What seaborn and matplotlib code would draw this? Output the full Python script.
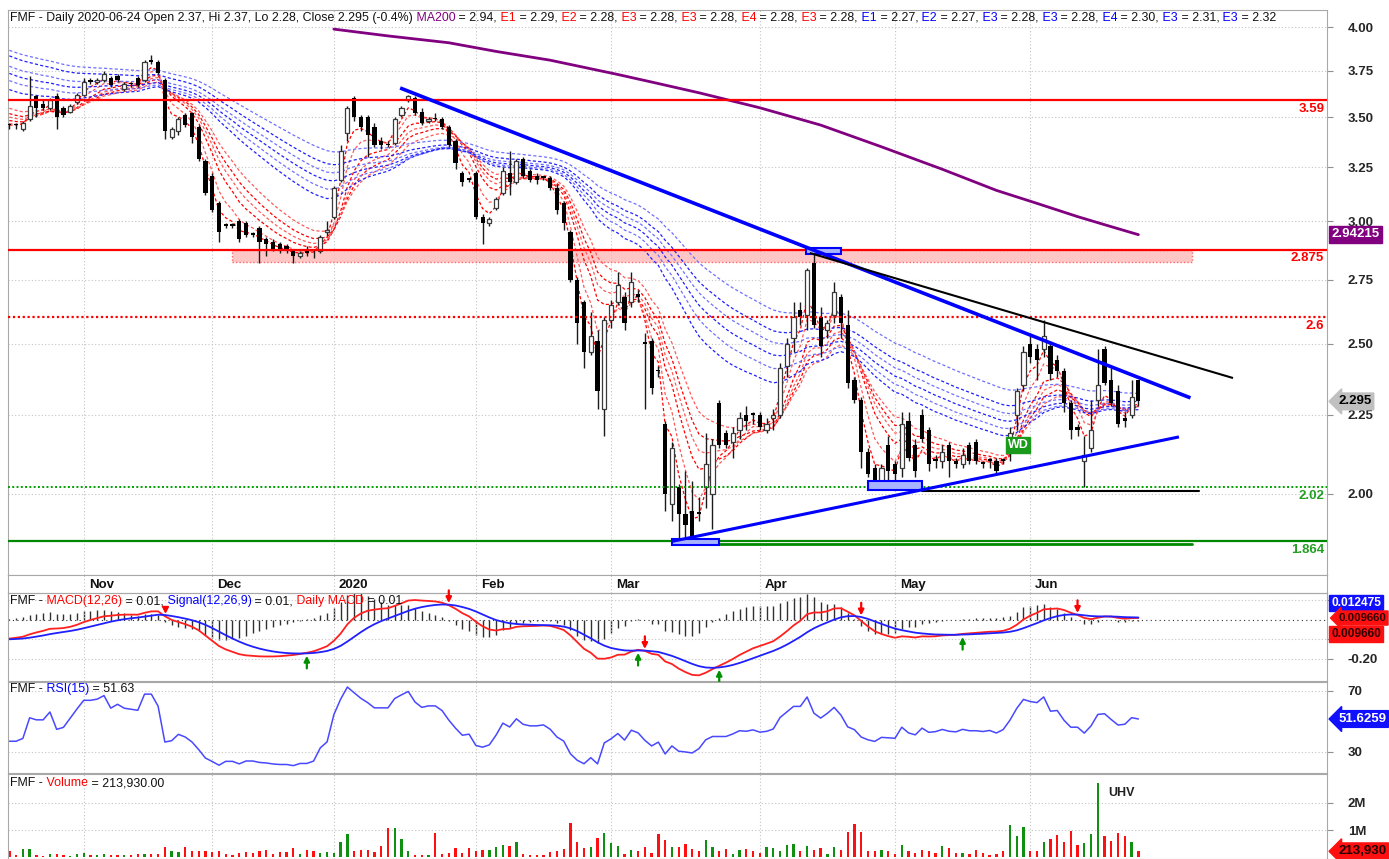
import numpy as np
import pandas as pd
import seaborn as sns
import matplotlib
matplotlib.use('Agg')
from matplotlib import pyplot as plt
from matplotlib.patches import Rectangle
from matplotlib.ticker import NullLocator, NullFormatter

# daily candles FMF, 2019-10-17 .. 2020-06-24 (one entry per traded day)
opens = [3.46, 3.46, 3.44, 3.49, 3.61, 3.57, 3.55, 3.61, 3.55, 3.53, 3.58, 3.62, 3.70, 3.69, 3.70, 3.71, 3.72, 3.65, 3.685, 3.71,
         3.70, 3.81, 3.80, 3.70, 3.40, 3.43, 3.51, 3.52, 3.45, 3.28, 3.21, 3.08, 2.98, 2.98, 3.00, 2.99, 2.94, 2.97, 2.92, 2.91,
         2.90, 2.89, 2.87, 2.85, 2.88, 2.87, 2.87, 2.95, 3.02, 3.19, 3.42, 3.60, 3.50, 3.50, 3.45, 3.38, 3.36, 3.37, 3.51, 3.59,
         3.60, 3.53, 3.48, 3.49, 3.49, 3.45, 3.38, 3.22, 3.19, 3.22, 3.02, 2.99, 3.06, 3.13, 3.22, 3.18, 3.29, 3.23, 3.21, 3.20,
         3.20, 3.15, 3.08, 2.95, 2.75, 2.66, 2.47, 2.51, 2.27, 2.59, 2.66, 2.68, 2.66, 2.69, 2.50, 2.51, 2.40, 2.22, 1.97, 2.02,
         1.94, 1.95, 1.94, 2.02, 2.00, 2.29, 2.19, 2.16, 2.20, 2.25, 2.25, 2.25, 2.20, 2.24, 2.25, 2.42, 2.52, 2.63, 2.61, 2.82,
         2.60, 2.55, 2.61, 2.68, 2.57, 2.37, 2.30, 2.13, 2.08, 2.04, 2.15, 2.09, 2.08, 2.23, 2.15, 2.25, 2.20, 2.10, 2.10, 2.15,
         2.10, 2.09, 2.15, 2.16, 2.09, 2.10, 2.10, 2.10, 2.17, 2.25, 2.35, 2.50, 2.48, 2.48, 2.49, 2.44, 2.40, 2.29, 2.21, 2.10,
         2.14, 2.30, 2.48, 2.37, 2.33, 2.24, 2.25, 2.37]
highs = [3.47, 3.47, 3.48, 3.72, 3.62, 3.59, 3.60, 3.63, 3.56, 3.57, 3.63, 3.71, 3.71, 3.71, 3.75, 3.72, 3.73, 3.69, 3.69, 3.72,
         3.81, 3.84, 3.81, 3.71, 3.45, 3.50, 3.52, 3.53, 3.46, 3.29, 3.22, 3.09, 2.99, 2.99, 3.01, 3.00, 2.95, 2.98, 2.93, 2.92,
         2.91, 2.90, 2.88, 2.87, 2.89, 2.88, 2.94, 3.00, 3.16, 3.36, 3.56, 3.61, 3.51, 3.51, 3.47, 3.40, 3.38, 3.50, 3.56, 3.62,
         3.61, 3.55, 3.50, 3.52, 3.50, 3.46, 3.39, 3.23, 3.20, 3.23, 3.03, 3.02, 3.11, 3.25, 3.33, 3.29, 3.30, 3.24, 3.22, 3.21,
         3.21, 3.17, 3.09, 2.96, 2.76, 2.67, 2.62, 2.55, 2.60, 2.67, 2.78, 2.70, 2.78, 2.71, 2.54, 2.52, 2.42, 2.23, 2.16, 2.03,
         2.07, 2.04, 1.99, 2.19, 2.17, 2.30, 2.20, 2.21, 2.26, 2.28, 2.26, 2.26, 2.24, 2.27, 2.43, 2.52, 2.66, 2.66, 2.80, 2.88,
         2.64, 2.59, 2.74, 2.69, 2.63, 2.38, 2.31, 2.14, 2.09, 2.09, 2.18, 2.10, 2.26, 2.26, 2.17, 2.27, 2.21, 2.12, 2.15, 2.16,
         2.11, 2.14, 2.16, 2.17, 2.10, 2.11, 2.11, 2.11, 2.21, 2.34, 2.49, 2.54, 2.50, 2.59, 2.51, 2.46, 2.41, 2.30, 2.22, 2.18,
         2.30, 2.48, 2.49, 2.41, 2.35, 2.26, 2.37, 2.37]
lows = [3.44, 3.44, 3.43, 3.48, 3.50, 3.54, 3.54, 3.44, 3.50, 3.52, 3.57, 3.61, 3.68, 3.68, 3.69, 3.66, 3.69, 3.64, 3.66, 3.66,
        3.69, 3.79, 3.73, 3.39, 3.39, 3.41, 3.45, 3.37, 3.28, 3.12, 3.04, 2.91, 2.97, 2.97, 2.91, 2.93, 2.93, 2.82, 2.85, 2.87,
        2.86, 2.86, 2.82, 2.84, 2.85, 2.84, 2.86, 2.94, 3.01, 3.18, 3.38, 3.48, 3.43, 3.30, 3.35, 3.34, 3.35, 3.36, 3.50, 3.58,
        3.51, 3.46, 3.47, 3.48, 3.44, 3.35, 3.24, 3.16, 3.18, 3.01, 2.90, 2.98, 3.05, 3.12, 3.12, 3.17, 3.20, 3.18, 3.17, 3.19,
        3.14, 3.03, 2.96, 2.74, 2.50, 2.41, 2.46, 2.27, 2.18, 2.56, 2.65, 2.55, 2.64, 2.66, 2.27, 2.32, 2.38, 1.95, 1.92, 1.87,
        1.87, 1.86, 1.92, 1.96, 1.90, 2.14, 2.14, 2.11, 2.17, 2.20, 2.22, 2.20, 2.19, 2.20, 2.24, 2.38, 2.47, 2.57, 2.55, 2.56,
        2.45, 2.52, 2.58, 2.52, 2.34, 2.29, 2.08, 2.05, 2.02, 2.02, 2.04, 2.04, 2.05, 2.10, 2.05, 2.16, 2.07, 2.08, 2.08, 2.05,
        2.08, 2.08, 2.09, 2.09, 2.08, 2.08, 2.06, 2.09, 2.10, 2.20, 2.33, 2.43, 2.37, 2.45, 2.37, 2.38, 2.26, 2.17, 2.18, 2.02,
        2.13, 2.28, 2.35, 2.28, 2.21, 2.21, 2.24, 2.28]
closes = [3.46, 3.46, 3.47, 3.56, 3.55, 3.55, 3.59, 3.50, 3.51, 3.56, 3.62, 3.69, 3.69, 3.70, 3.73, 3.67, 3.70, 3.68, 3.675, 3.67,
          3.80, 3.80, 3.74, 3.43, 3.44, 3.49, 3.46, 3.40, 3.29, 3.13, 3.05, 2.95, 2.98, 2.98, 2.92, 2.94, 2.94, 2.91, 2.90, 2.88,
          2.87, 2.87, 2.85, 2.86, 2.86, 2.87, 2.93, 2.96, 3.15, 3.33, 3.55, 3.50, 3.45, 3.41, 3.36, 3.36, 3.36, 3.49, 3.55, 3.61,
          3.52, 3.47, 3.49, 3.49, 3.45, 3.36, 3.27, 3.18, 3.19, 3.02, 2.99, 3.01, 3.10, 3.23, 3.18, 3.28, 3.21, 3.19, 3.19, 3.20,
          3.15, 3.05, 2.99, 2.75, 2.58, 2.47, 2.53, 2.33, 2.59, 2.65, 2.73, 2.58, 2.74, 2.68, 2.50, 2.34, 2.40, 2.00, 2.14, 1.94,
          1.91, 1.87, 1.94, 2.09, 2.15, 2.15, 2.15, 2.19, 2.24, 2.23, 2.25, 2.21, 2.22, 2.25, 2.41, 2.50, 2.60, 2.60, 2.79, 2.57,
          2.49, 2.58, 2.70, 2.58, 2.36, 2.30, 2.13, 2.06, 2.02, 2.08, 2.07, 2.06, 2.22, 2.11, 2.07, 2.17, 2.09, 2.10, 2.13, 2.10,
          2.09, 2.12, 2.10, 2.10, 2.09, 2.10, 2.07, 2.10, 2.19, 2.33, 2.47, 2.45, 2.44, 2.53, 2.39, 2.40, 2.29, 2.20, 2.20, 2.12,
          2.20, 2.35, 2.36, 2.29, 2.22, 2.23, 2.31, 2.295]
volume_m = [0.23, 0.06, 0.30, 0.30, 0.06, 0.04, 0.12, 0.10, 0.06, 0.04, 0.12, 0.16, 0.08, 0.06, 0.12, 0.08, 0.08, 0.08, 0.08, 0.12,
            0.10, 0.12, 0.12, 0.36, 0.24, 0.18, 0.36, 0.21, 0.21, 0.24, 0.18, 0.23, 0.12, 0.08, 0.16, 0.18, 0.16, 0.24, 0.25, 0.12,
            0.18, 0.18, 0.33, 0.12, 0.28, 0.24, 0.16, 0.18, 0.16, 0.57, 0.85, 0.24, 0.27, 0.27, 0.18, 0.42, 1.09, 1.09, 0.67, 0.21,
            0.08, 0.08, 0.08, 0.88, 0.11, 0.16, 0.33, 0.16, 0.33, 0.24, 0.28, 0.28, 0.36, 0.46, 0.42, 0.57, 0.12, 0.08, 0.06, 0.08,
            0.18, 0.21, 0.30, 1.27, 0.57, 0.33, 0.36, 0.70, 0.88, 0.51, 0.42, 0.12, 0.27, 0.24, 0.36, 0.16, 0.85, 0.63, 0.36, 0.36,
            0.48, 0.30, 0.24, 0.63, 0.36, 0.21, 0.30, 0.12, 0.28, 0.30, 0.21, 0.16, 0.36, 0.33, 0.24, 0.45, 0.47, 0.21, 0.40, 0.27,
            0.33, 0.12, 0.36, 0.28, 0.91, 1.24, 0.91, 0.23, 0.23, 0.27, 0.23, 0.12, 0.46, 0.23, 0.16, 0.27, 0.21, 0.16, 0.40, 0.33,
            0.16, 0.16, 0.12, 0.27, 0.16, 0.08, 0.12, 0.22, 1.19, 0.79, 1.12, 0.21, 0.24, 0.57, 0.67, 0.82, 0.57, 0.95, 0.46, 0.51,
            0.87, 2.73, 0.79, 0.61, 0.88, 0.79, 0.57, 0.214]

month_labels = ['Nov', 'Dec', '2020', 'Feb', 'Mar', 'Apr', 'May', 'Jun']
month_first_bar = [11, 30, 48, 69, 89, 111, 131, 151]

# 200 day average (bar, value)
ma200_bar = [48, 56, 65, 72, 80, 90, 96, 102, 111, 120, 129, 138, 146, 152, 158, 163, 167]
ma200_val = [3.99, 3.95, 3.91, 3.86, 3.81, 3.73, 3.68, 3.63, 3.55, 3.46, 3.35, 3.24, 3.14, 3.08, 3.02, 2.975, 2.94]

# guppy averages, starting values at the left edge
short_spans = [3, 5, 8, 10, 12, 15]
short_seeds = [3.46, 3.47, 3.49, 3.51, 3.53, 3.56]
long_spans = [30, 35, 40, 45, 50, 60]
long_seeds = [3.66, 3.71, 3.75, 3.79, 3.85, 3.88]
macd_seeds = {'fast': 3.50, 'slow': 3.60, 'signal': -0.10}
rsi_seeds = {'gain': 0.010, 'loss': 0.017}

levels_red = [3.59, 2.875]
level_dotted_red = 2.6
level_dotted_green = 2.02
level_green = 1.864
zone_pink = (33, 175, 2.823, 2.875)
boxes_blue = [(98, 105, 1.855, 1.872), (117.8, 123, 2.858, 2.882), (127, 135, 2.012, 2.038)]
trend_blue_down = ((57.8, 3.656), (174.7, 2.307))
trend_black = ((118.4, 2.861), (181, 2.376))
trend_blue_up = ((98, 1.864), (173, 2.177))
black_floor = ((135, 176), 2.01)
green_floor = ((103, 175), 1.857)

sell_bars = [65, 94, 126, 158]
sell_small_bars = [23]
buy_bars = [44, 93, 105, 141]


def ema(values, span, seed):
    a = 2.0 / (span + 1)
    out, prev = [], seed
    for v in values:
        prev = a * v + (1 - a) * prev
        out.append(prev)
    return np.array(out)


def wilder_rsi(values, n, g0, l0):
    ag, al, prev = g0, l0, values[0]
    out = []
    for v in values:
        ch = v - prev
        prev = v
        ag = (ag * (n - 1) + max(ch, 0)) / n
        al = (al * (n - 1) + max(-ch, 0)) / n
        out.append(100 - 100 / (1 + ag / al))
    return np.array(out)


df = pd.DataFrame({'open': opens, 'high': highs, 'low': lows, 'close': closes, 'vol': volume_m})
df['bar'] = np.arange(len(df))
macd = ema(closes, 12, macd_seeds['fast']) - ema(closes, 26, macd_seeds['slow'])
signal = ema(macd, 9, macd_seeds['signal'])
hist = macd - signal
rsi = wilder_rsi(closes, 15, rsi_seeds['gain'], rsi_seeds['loss'])

sns.set_style('white')
plt.rcParams['font.family'] = ['Liberation Sans', 'DejaVu Sans']

W, H = 1389, 859
fig = plt.figure(figsize=(W / 100, H / 100), dpi=100)
L, AW = 8 / W, 1319 / W
XLIM = (-0.2, 194.9)
GRID = dict(color='#c4c4c4', linestyle=(0, (1, 2)), linewidth=0.8)
SPINE = '#a8a8a8'
FS = 8.9


def right_ticks(a):
    a.yaxis.tick_right()
    a.tick_params(axis='y', left=False, right=True, labelleft=False, labelright=True,
                  length=4, color='#909090', pad=11, labelsize=9.5)


def panel(top, bottom):
    a = fig.add_axes([L, 1 - bottom / H, AW, (bottom - top) / H])
    a.set_xlim(*XLIM)
    a.set_xticks(month_first_bar)
    a.tick_params(axis='x', length=0, labelbottom=False)
    a.grid(axis='x', **GRID)
    right_ticks(a)
    for s in a.spines.values():
        s.set_color(SPINE)
    return a


def rainbow(a, x, y, parts, **kw):
    t = a.text(x, y, parts[0][0], color=parts[0][1], transform=fig.transFigure, va='bottom', **kw)
    for s, c in parts[1:]:
        t = a.annotate(s, xy=(1, 0), xycoords=t, va='bottom', color=c, annotation_clip=False, **kw)
    return t


def value_box(a, y, txt, fc, tc, arrow=False, dy=0, fs=9.5):
    style = 'larrow,pad=0.18' if arrow else 'square,pad=0.18'
    a.annotate(txt, xy=(1, y), xycoords=('axes fraction', 'data'), xytext=(3 if not arrow else 8, dy),
               textcoords='offset points', ha='left', va='center', color=tc, fontsize=fs,
               fontweight='bold', bbox=dict(boxstyle=style, fc=fc, ec=fc), annotation_clip=False, zorder=10)


# ---------------- price panel
ax = panel(10, 575)
ax.set_yscale('log')
ax.set_ylim(1.7732, 4.105)
ax.yaxis.set_minor_locator(NullLocator())
ax.yaxis.set_minor_formatter(NullFormatter())
price_ticks = [2.0, 2.25, 2.5, 2.75, 3.0, 3.25, 3.5, 3.75, 4.0]
ax.set_yticks(price_ticks)
ax.set_yticklabels([f'{v:.2f}' for v in price_ticks], fontweight='bold')
ax.grid(axis='y', **GRID)

x = df['bar'].to_numpy()
o, c = df['open'].to_numpy(), df['close'].to_numpy()
up = c > o
body_lo = np.minimum(o, c)
body_h = np.maximum(np.abs(c - o), 0.006)
ax.vlines(x, df['low'], df['high'], color='#1a1a1a', lw=1, zorder=4)
ax.bar(x[up], body_h[up], bottom=body_lo[up], width=0.62, facecolor='white', edgecolor='#3a3a3a', lw=0.9, zorder=5)
ax.bar(x[~up], body_h[~up], bottom=body_lo[~up], width=0.62, color='black', lw=0, zorder=5)

for i, (sp, sd) in enumerate(zip(short_spans, short_seeds)):
    ax.plot(x, ema(closes, sp, sd), color=['#ff0000', '#ff5a5a'][i % 2], lw=0.9, ls=(0, (2.5, 1.8)), zorder=3)
for i, (sp, sd) in enumerate(zip(long_spans, long_seeds)):
    ax.plot(x, ema(closes, sp, sd), color=['#2020ff', '#7070ff'][i % 2], lw=0.9, ls=(0, (2.5, 1.8)), zorder=3)

sns.lineplot(x=ma200_bar, y=ma200_val, ax=ax, color='#800080', lw=2, zorder=6)
ax.set_xlabel('')
ax.set_ylabel('')

for lv in levels_red:
    ax.axhline(lv, color='#ff0000', lw=1.6, zorder=6)
ax.axhline(level_dotted_red, color='#ff0000', lw=1.6, ls=(0, (1, 1.2)), zorder=6)
ax.axhline(level_dotted_green, color='#00a000', lw=1.4, ls=(0, (1, 1.2)), zorder=6)
ax.axhline(level_green, color='#008800', lw=1.6, zorder=6)
ax.plot(green_floor[0], [green_floor[1]] * 2, color='#008800', lw=2, zorder=6)
ax.plot(black_floor[0], [black_floor[1]] * 2, color='black', lw=1.5, zorder=6)

z0, z1, zl, zh = zone_pink
ax.add_patch(Rectangle((z0, zl), z1 - z0, zh - zl, facecolor='#ffb4b4', alpha=0.75, edgecolor='#ff4040',
                       lw=1, ls=(0, (1, 1.5)), zorder=2))
for b0, b1, bl, bh in boxes_blue:
    ax.add_patch(Rectangle((b0, bl), b1 - b0, bh - bl, facecolor='#a8b4ff', edgecolor='#0000ff', lw=1.5, zorder=7))

for (x0, y0), (x1, y1), col, lw in [(*trend_blue_down, '#0000ff', 2.6), (*trend_black, 'black', 1.5),
                                     (*trend_blue_up, '#0000ff', 2.2)]:
    ax.plot([x0, x1], [y0, y1], color=col, lw=lw, zorder=8, solid_capstyle='butt')

for lv, txt, col in [(3.59, '3.59', '#ff0000'), (2.875, '2.875', '#ff0000'), (2.6, '2.6', '#ff0000'),
                     (2.02, '2.02', '#22a022'), (1.864, '1.864', '#22a022')]:
    ax.annotate(txt, xy=(1, lv), xytext=(-2, -6), xycoords=('axes fraction', 'data'), textcoords='offset points',
                ha='right', va='center', fontsize=9.5, fontweight='bold', color=col)

ax.text(149.2, 2.15, 'WD', color='white', fontsize=9, fontweight='bold', ha='center', va='center', zorder=9,
        bbox=dict(boxstyle='square,pad=0.15', fc='#1a9a1a', ec='#1a9a1a'))

value_box(ax, 2.94215, '2.94215', '#800080', 'white')
value_box(ax, 2.295, '2.295', '#c0c0c0', 'black', arrow=True)

e_parts = [('E1', 'red', '2.29'), ('E2', 'red', '2.28'), ('E3', 'red', '2.28'), ('E3', 'red', '2.28'),
           ('E4', 'red', '2.28'), ('E3', 'red', '2.28'), ('E1', 'blue', '2.27'), ('E2', 'blue', '2.27'),
           ('E3', 'blue', '2.28'), ('E3', 'blue', '2.28'), ('E4', 'blue', '2.30'), ('E3', 'blue', '2.31'),
           ('E3', 'blue', '2.32')]
parts = [('FMF - Daily 2020-06-24 Open 2.37, Hi 2.37, Lo 2.28, Close 2.295 (-0.4%)', '#111111'),
         (' MA200', '#800080'), (' = 2.94,', '#111111')]
for k, (nm, col, v) in enumerate(e_parts):
    parts.append((' ' + nm, '#ff0000' if col == 'red' else '#0000ff'))
    parts.append((f' = {v}' + (',' if k < len(e_parts) - 1 else ''), '#111111'))
rainbow(ax, 10 / W, 1 - 24 / H, parts, fontsize=FS)

# ---------------- date strip
axd = fig.add_axes([L, 1 - 593 / H, AW, 18 / H])
axd.set_xlim(*XLIM)
axd.set_ylim(0, 1)
axd.set_xticks([])
axd.set_yticks([])
for s in axd.spines.values():
    s.set_color(SPINE)
for pos, lab in zip(month_first_bar, month_labels):
    axd.axvline(pos, **GRID)
    axd.text(pos + 0.75, 0.45, lab, fontsize=9.5, fontweight='bold', va='center', ha='left', color='#111111')

# ---------------- MACD
axm = panel(593, 681)
axh = axm.twinx()
right_ticks(axm)
axm.set_ylim(-0.313, 0.138)
axm.set_yticks([0.1, -0.1, -0.2])
# the 0.10 / -0.10 labels sit under the value boxes, only -0.20 shows
axm.set_yticklabels(['', '', '-0.20'], fontweight='bold')
axm.grid(axis='y', **GRID)
axh.set_ylim(-0.313 * 0.7, 0.138 * 0.7)
axh.set_yticks([])
for s in axh.spines.values():
    s.set_visible(False)
axh.vlines(x, 0, hist, color='#303030', lw=1)
axh.axhline(0, color='#303030', lw=0.8, ls=(0, (1, 3)))
axh.set_zorder(axm.get_zorder() - 1)
axm.patch.set_visible(False)
sns.lineplot(x=x, y=macd, ax=axm, color='#ff2020', lw=1.3)
sns.lineplot(x=x, y=signal, ax=axm, color='#2020ff', lw=1.3)
axm.set_xlabel('')
axm.set_ylabel('')
for i in sell_bars:
    top = max(macd[i], signal[i]) + 0.008
    axm.annotate('', xy=(i, top), xytext=(i, top + 0.065),
                 arrowprops=dict(arrowstyle='-|>', color='#ff0000', lw=1.6, mutation_scale=8, shrinkA=0, shrinkB=0))
for i in buy_bars:
    bot = min(macd[i], signal[i]) - 0.012
    axm.annotate('', xy=(i, bot), xytext=(i, bot - 0.065),
                 arrowprops=dict(arrowstyle='-|>', color='#009000', lw=1.6, mutation_scale=8, shrinkA=0, shrinkB=0))
for i in sell_small_bars:
    axm.plot(i, max(macd[i], signal[i]) + 0.03, marker='v', color='#ff0000', ms=4)
value_box(axm, 0.087, '0.012475', '#1010ff', 'white', fs=8.6)
value_box(axm, 0.0097, '0.009660', '#ff1010', '#300000', arrow=True, fs=8.2)
value_box(axm, -0.072, '0.009660', '#ff1010', '#300000', fs=8.6)
rainbow(axm, 10 / W, 1 - 607 / H,
        [('FMF -', '#111111'), (' MACD(12,26)', '#ff0000'), (' = 0.01,', '#111111'),
         (' Signal(12,26,9)', '#0000ff'), (' = 0.01,', '#111111'), (' Daily MACD', '#ff0000'),
         (' = 0.01', '#111111')], fontsize=FS)

# ---------------- RSI
axr = panel(682, 773)
axr.set_ylim(16.2, 75.9)
axr.set_yticks([30, 70])
axr.set_yticklabels(['30', '70'], fontweight='bold')
axr.grid(axis='y', **GRID)
sns.lineplot(x=x, y=rsi, ax=axr, color='#4848ff', lw=1.1)
axr.set_xlabel('')
axr.set_ylabel('')
value_box(axr, 51.6259, '51.6259', '#1010ff', 'white', arrow=True)
rainbow(axr, 10 / W, 1 - 695 / H, [('FMF -', '#111111'), (' RSI(15)', '#0000ff'), (' = 51.63', '#111111')],
        fontsize=FS)

# ---------------- volume
axv = panel(774, 859)
axv.set_ylim(-0.07, 3.07)
axv.set_yticks([1, 2])
axv.set_yticklabels(['1M', '2M'], fontweight='bold')
axv.grid(axis='y', **GRID)
vcol = np.where(c > o, '#109010', '#ff1010')
axv.bar(x, df['vol'], width=0.34, color=vcol, lw=0)
axv.text(162.6, 2.35, 'UHV', fontsize=9, fontweight='bold', color='#202020', va='center')
value_box(axv, 0.214, '213,930', '#ff1010', '#200000', arrow=True)
rainbow(axv, 10 / W, 1 - 789 / H, [('FMF -', '#111111'), (' Volume', '#ff0000'), (' = 213,930.00', '#111111')],
        fontsize=FS)

fig.savefig('out.png', dpi=100, facecolor='white')
